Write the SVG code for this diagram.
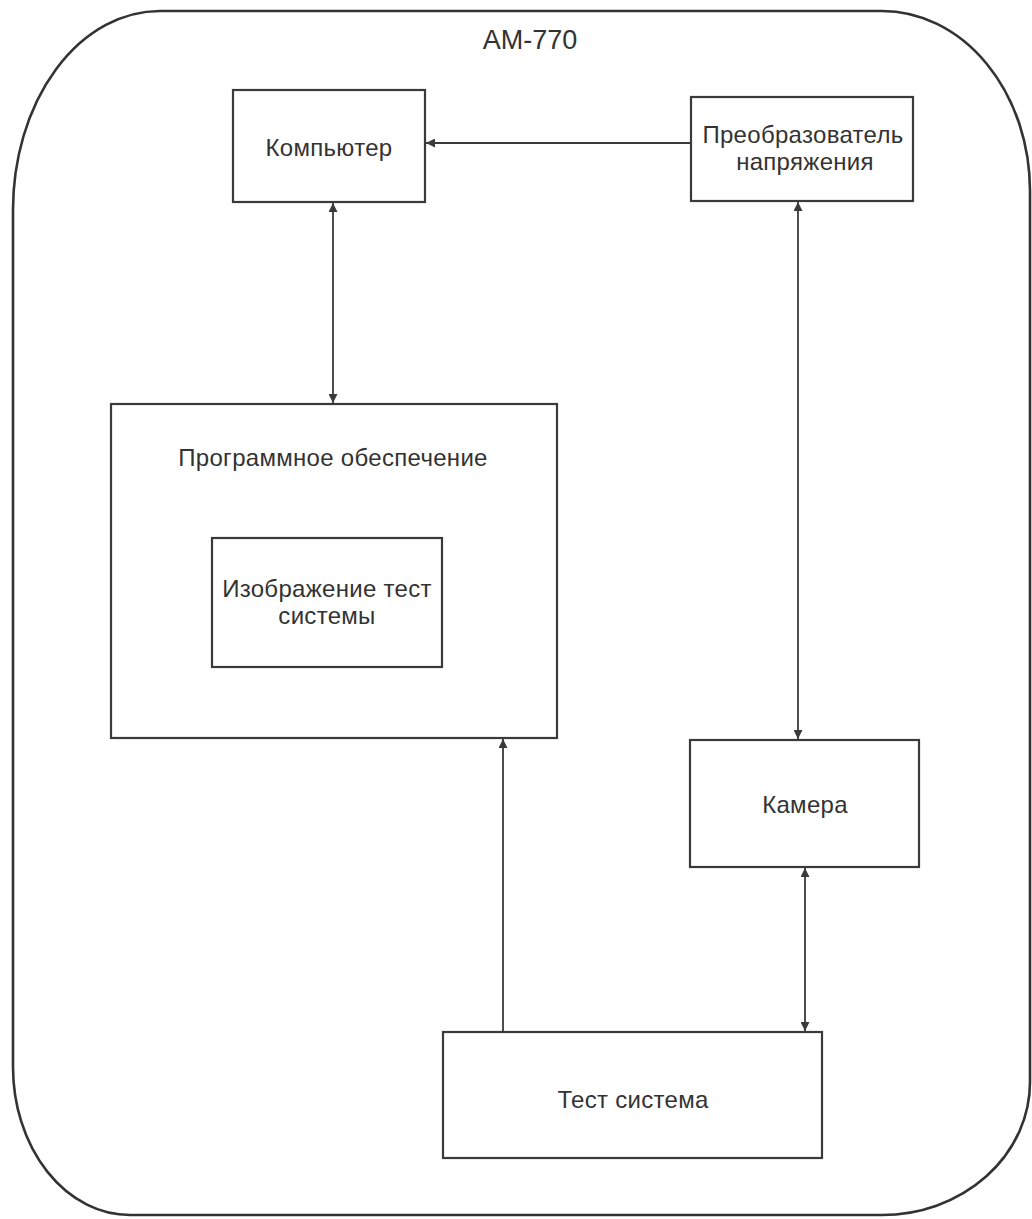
<svg xmlns="http://www.w3.org/2000/svg" width="1032" height="1219" viewBox="0 0 1032 1219">
  <defs>
    <marker id="arr" viewBox="0 0 10 10" refX="10" refY="5" markerWidth="9" markerHeight="9" markerUnits="userSpaceOnUse" orient="auto-start-reverse">
      <path d="M0,0 L10,5 L0,10 Z" fill="#3a3a3a"/>
    </marker>
    <style>
      .box { fill: none; stroke: #3a3a3a; stroke-width: 2.2; }
      .frame { fill: none; stroke: #333333; stroke-width: 2.6; }
      .lbl { font-family: "Liberation Sans", Arial, sans-serif; font-size: 24px; letter-spacing: 0.3px; fill: #333333; text-anchor: middle; }
      .title { font-family: "Liberation Sans", Arial, sans-serif; font-size: 27px; fill: #333333; text-anchor: middle; }
      .conn { stroke: #3a3a3a; stroke-width: 1.8; fill: none; }
    </style>
  </defs>
  <rect width="1032" height="1219" fill="#ffffff"/>
  <g id="frame">
    <path class="frame" d="M160,11 L882,11 A148 180 0 0 1 1030,191 L1030,1082 A148 133 0 0 1 882,1215 L130,1215 A117 148 0 0 1 13,1067 L13,210 A147 199 0 0 1 160,11 Z"/>
    <text class="title" x="530" y="49">AM-770</text>
  </g>
  <g id="computer">
    <rect class="box" x="233" y="90" width="192" height="112"/>
    <text class="lbl" x="329" y="156">Компьютер</text>
  </g>
  <g id="converter">
    <rect class="box" x="691" y="97" width="222" height="104"/>
    <text class="lbl" x="803" y="143">Преобразователь</text>
    <text class="lbl" x="805" y="170">напряжения</text>
  </g>
  <g id="software">
    <rect class="box" x="111" y="404" width="446" height="334"/>
    <text class="lbl" x="333" y="466">Программное обеспечение</text>
  </g>
  <g id="image">
    <rect class="box" x="212" y="538" width="230" height="129"/>
    <text class="lbl" x="327" y="597">Изображение тест</text>
    <text class="lbl" x="327" y="624">системы</text>
  </g>
  <g id="camera">
    <rect class="box" x="690" y="740" width="229" height="127"/>
    <text class="lbl" x="805" y="813">Камера</text>
  </g>
  <g id="testsystem">
    <rect class="box" x="443" y="1032" width="379" height="126"/>
    <text class="lbl" x="633" y="1108">Тест система</text>
  </g>
  <g id="connectors">
    <line class="conn" x1="691" y1="143" x2="426" y2="143" marker-end="url(#arr)"/>
    <line class="conn" x1="333" y1="203" x2="333" y2="403" marker-start="url(#arr)" marker-end="url(#arr)"/>
    <line class="conn" x1="798" y1="202" x2="798" y2="739" marker-start="url(#arr)" marker-end="url(#arr)"/>
    <line class="conn" x1="503" y1="1032" x2="503" y2="739" marker-end="url(#arr)"/>
    <line class="conn" x1="805" y1="868" x2="805" y2="1031" marker-start="url(#arr)" marker-end="url(#arr)"/>
  </g>
</svg>
